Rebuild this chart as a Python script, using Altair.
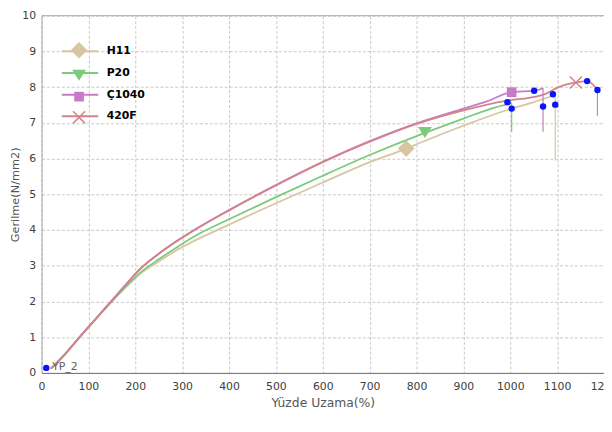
import altair as alt
import pandas as pd

names = ["H11", "P20", "Ç1040", "420F"]
colors = ["#d6c6a2", "#7ccb7c", "#c77bc7", "#d3838a"]
shape_paths = [
    "M0,-1.2L1.2,0L0,1.2L-1.2,0Z",
    "M-1,-0.75L1,-0.75L0,0.85Z",
    "M-0.7,-0.7H0.7V0.7H-0.7Z",
    "M-0.95,-0.8L-0.8,-0.95L0,-0.15L0.8,-0.95L0.95,-0.8L0.15,0L0.95,0.8L0.8,0.95L0,0.15L-0.8,0.95L-0.95,0.8L-0.15,0Z",
]

h11_x = [20, 50, 80, 115, 150, 180, 210, 250, 289, 400, 500, 600, 700, 778, 800, 900, 993, 1050, 1096]
h11_y = [0.12, 0.52, 0.98, 1.5, 2.0, 2.4, 2.77, 3.12, 3.44, 4.15, 4.75, 5.33, 5.9, 6.28, 6.4, 6.92, 7.36, 7.58, 7.78]

p20_x = [20, 50, 80, 115, 150, 180, 210, 250, 289, 334, 400, 500, 600, 700, 800, 818, 900, 965, 1003]
p20_y = [0.12, 0.52, 0.98, 1.5, 2.0, 2.42, 2.8, 3.18, 3.52, 3.88, 4.3, 4.92, 5.52, 6.1, 6.63, 6.72, 7.12, 7.42, 7.55]

c1040_x = [20, 50, 80, 115, 150, 180, 210, 250, 289, 324, 400, 500, 600, 700, 800, 900, 950, 1003, 1051, 1070]
c1040_y = [0.12, 0.53, 0.99, 1.51, 2.03, 2.48, 2.91, 3.34, 3.7, 3.99, 4.56, 5.26, 5.91, 6.49, 6.99, 7.4, 7.6, 7.86, 7.9, 7.97]

f420_x = [20, 50, 80, 115, 150, 180, 210, 250, 289, 324, 400, 500, 600, 700, 800, 900, 1000, 1040, 1077, 1100, 1120, 1140, 1164, 1186]
f420_y = [0.12, 0.52, 0.98, 1.5, 2.02, 2.47, 2.9, 3.33, 3.69, 3.98, 4.55, 5.25, 5.9, 6.47, 6.97, 7.35, 7.64, 7.7, 7.82, 7.98, 8.08, 8.13, 8.17, 7.93]

# single marker on each curve
marker_x = [778, 818, 1003, 1140]
marker_y = [6.28, 6.74, 7.86, 8.13]
marker_order = [0, 1, 2, 3]

# fracture drops
drop_x = [1096, 1003, 1070, 1186]
drop_top = [7.78, 7.55, 7.97, 7.93]
drop_bottom = [5.95, 6.75, 6.75, 7.2]

# blue points
blue_x = [10, 994, 1003, 1051, 1070, 1091, 1096, 1164, 1186]
blue_y = [0.14, 7.58, 7.4, 7.9, 7.46, 7.8, 7.51, 8.17, 7.92]
blue_label = ["YP_2", "", "", "", "", "", "", "", ""]

rows = []
for name, xs, ys in [("H11", h11_x, h11_y), ("P20", p20_x, p20_y),
                     ("Ç1040", c1040_x, c1040_y), ("420F", f420_x, f420_y)]:
    for i, (xv, yv) in enumerate(zip(xs, ys)):
        rows.append({"series": name, "x": xv, "y": yv, "i": i})
lines_df = pd.DataFrame(rows)

marker_df = pd.DataFrame({"material": names, "x": marker_x, "y": marker_y, "ord": marker_order})
drop_df = pd.DataFrame({"series": names, "x": drop_x, "y": drop_top, "y2": drop_bottom})
blue_df = pd.DataFrame({"x": blue_x, "y": blue_y, "label": blue_label})

xscale = alt.Scale(domain=[0, 1200], nice=False)
yscale = alt.Scale(domain=[0, 10], nice=False)
xaxis = alt.Axis(values=list(range(0, 1300, 100)), title="Yüzde Uzama(%)", format="d",
                 labelPadding=8, titlePadding=5, domainColor="#6e6e6e", labelFlush=False)
yaxis = alt.Axis(values=list(range(0, 11)), title="Gerilme(N/mm2)",
                 labelPadding=6, titleX=-23, titleBaseline="alphabetic",
                 titleFontSize=11.5, domainColor="#a8a8a8")
X = alt.X("x:Q", scale=xscale, axis=xaxis)
Y = alt.Y("y:Q", scale=yscale, axis=yaxis)

common_legend = dict(orient="none", legendX=31, legendY=28, title=None, padding=0,
                     symbolSize=196, rowPadding=9,
                     labelFont="DejaVu Sans", labelFontSize=11, labelFontWeight="bold",
                     labelColor="black")

stroke = alt.Stroke("series:N", scale=alt.Scale(domain=names, range=colors),
                    legend=alt.Legend(symbolType="M-2.64,0H2.64", symbolStrokeWidth=2,
                                      symbolFillColor="transparent", labelOffset=19,
                                      **common_legend))

lines = alt.Chart(lines_df).mark_line(strokeWidth=1.8, interpolate="monotone").encode(
    x=X, y=Y, stroke=stroke, order="i:Q", detail="series:N")

drops = alt.Chart(drop_df).mark_rule(strokeWidth=1.2).encode(
    x=X, y=Y, y2="y2:Q",
    stroke=alt.Stroke("series:N", scale=alt.Scale(domain=names, range=colors), legend=None))

msort = alt.EncodingSortField(field="ord", op="min")
mleg = alt.Legend(labelExpr="''", symbolStrokeWidth=0, **common_legend)
markers = alt.Chart(marker_df).mark_point(filled=True, size=196, opacity=1).encode(
    x=X, y=Y,
    color=alt.Color("material:N", sort=msort, scale=alt.Scale(range=colors), legend=mleg),
    shape=alt.Shape("material:N", sort=msort, scale=alt.Scale(range=shape_paths), legend=mleg))

blue = alt.Chart(blue_df).mark_circle(size=42, color="#0a14ff", opacity=1).encode(x=X, y=Y)
blue_text = alt.Chart(blue_df).mark_text(align="left", baseline="middle", dx=6, dy=-1,
                                         font="DejaVu Sans", fontSize=11, color="#606060").encode(
    x=X, y=Y, text="label:N")

top = alt.Chart(pd.DataFrame({"v": [10]})).mark_rule(color="#a8a8a8", strokeWidth=1).encode(
    y=alt.Y("v:Q", scale=yscale, axis=yaxis))

chart = alt.layer(top, lines, drops, blue, blue_text, markers).properties(
    width=570, height=362,
    autosize=alt.AutoSizeParams(type="none"),
    padding={"left": 34, "top": 5, "right": 0, "bottom": 52},
).configure_axis(
    labelFont="DejaVu Sans", labelFontSize=11, labelColor="#404040",
    titleFont="DejaVu Sans", titleFontSize=12.5, titleFontWeight="normal", titleColor="#555555",
    gridColor="#c8c8c8", gridDash=[3, 2], ticks=False,
).configure_view(stroke=None)

chart.save("out.html", embed_options={"renderer": "svg", "actions": False})
